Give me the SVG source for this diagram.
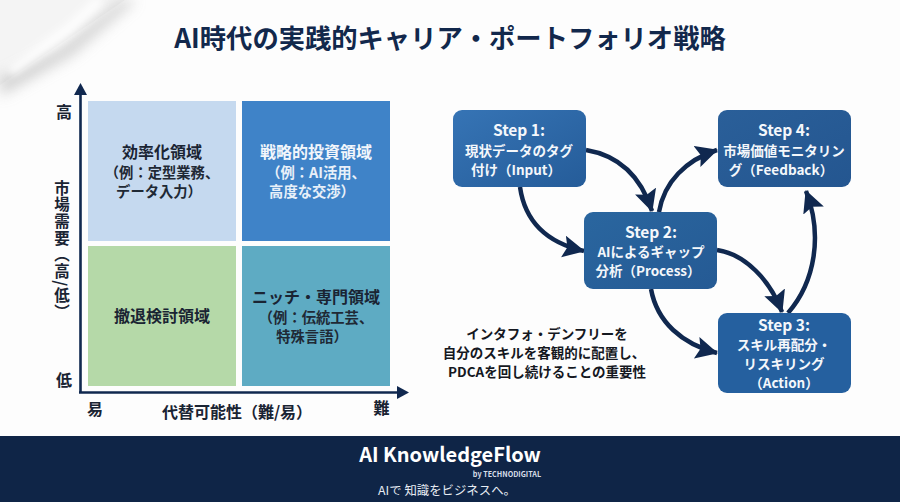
<svg xmlns="http://www.w3.org/2000/svg" width="900" height="502" viewBox="0 0 900 502">
<style>
text{font-family:"Noto Sans CJK JP","Noto Sans",sans-serif;text-anchor:middle;font-weight:700}
.t{font-size:16px;fill:#1a2433}
.w{font-size:16px;fill:#f2f6fb}
.s{font-size:14.300px;fill:#1f2935}
.sw{font-size:14.300px;fill:#e8f0f9}
.ax{font-size:16px;fill:#1a2433}
.n{font-size:13.500px;fill:#f4f7fb}
.h{font-size:15.500px;fill:#f4f7fb}
.c{font-size:13.500px;fill:#15181f}
.arr{fill:none;stroke:#10284f;stroke-width:4.500;marker-end:url(#a)}
.axis{fill:none;stroke:#10284f;stroke-width:2.600}
</style>
<defs>
<marker id="a" markerUnits="userSpaceOnUse" markerWidth="26" markerHeight="26" refX="21" refY="11" orient="auto"><path d="M0 0L22 11L0 22L4 11Z" fill="#10284f"/></marker>
<linearGradient id="b1" x1="0" y1="0" x2="1" y2="1"><stop offset="0" stop-color="#3674b5"/><stop offset="1" stop-color="#255c99"/></linearGradient>
<linearGradient id="b2" x1="0" y1="0" x2="1" y2="1"><stop offset="0" stop-color="#2a669f"/><stop offset="1" stop-color="#255a94"/></linearGradient>
<linearGradient id="b4" x1="0" y1="0" x2="1" y2="1"><stop offset="0" stop-color="#2a5f99"/><stop offset="1" stop-color="#245690"/></linearGradient>
<filter id="bl" x="-30%" y="-30%" width="160%" height="160%"><feGaussianBlur stdDeviation="7"/></filter>
<filter id="bl2" x="-30%" y="-30%" width="160%" height="160%"><feGaussianBlur stdDeviation="4"/></filter>
</defs>
<rect width="900" height="502" fill="#fdfdfd"/>
<g id="curl">
<path d="M0 0H125L0 85Z" fill="#f4f4f4"/>
<path d="M0 78L60 48L122 0H136L72 55L0 96Z" fill="#bcbcbc" opacity=".7" filter="url(#bl)"/>
<path d="M10 72L70 28L100 0" fill="none" stroke="#fff" stroke-width="9" filter="url(#bl2)"/>
</g>
<text id="title" x="450" y="48" style="font-size:26.300px;fill:#12284c">AI時代の実践的キャリア・ポートフォリオ戦略</text>
<g id="axes">
<path class="axis" d="M80.500 392V92"/>
<path d="M80.500 83L87 95H74Z" fill="#10284f"/>
<path class="axis" d="M79 392.500H400"/>
<path d="M409 392.500L397 386V399Z" fill="#10284f"/>
<text class="ax" x="64" y="118">高</text>
<text class="ax" x="64" y="386">低</text>
<text class="ax" x="95" y="415">易</text>
<text class="ax" x="381.500" y="414">難</text>
<text class="ax" x="237" y="418">代替可能性（難/易）</text>
<text class="ax" x="62" y="180" style="writing-mode:vertical-rl;text-anchor:start;font-size:15.500px;letter-spacing:1.200px">市場需要（高/低）</text>
</g>
<g id="q1"><rect x="88" y="101" width="148" height="140" fill="#c5d9ef"/>
<text class="t" x="162" y="158">効率化領域</text><text class="s" x="162" y="178">（例：定型業務、</text><text class="s" x="159" y="197">データ入力）</text></g>
<g id="q2"><rect x="242" y="101" width="148" height="140" fill="#3f83c8"/>
<text class="w" x="316" y="158">戦略的投資領域</text><text class="sw" x="316" y="178">（例：AI活用、</text><text class="sw" x="312" y="197">高度な交渉）</text></g>
<g id="q3"><rect x="88" y="246" width="148" height="140" fill="#b5d9a8"/>
<text class="t" x="162" y="322">撤退検討領域</text></g>
<g id="q4"><rect x="242" y="246" width="148" height="140" fill="#5eabc3"/>
<text class="t" x="316" y="303">ニッチ・専門領域</text><text class="s" x="316" y="323">（例：伝統工芸、</text><text class="s" x="312" y="342">特殊言語）</text></g>
<g id="connectors">
<path class="arr" d="M586 150C622 156 642 180 652 211"/>
<path class="arr" d="M520 187C525 222 548 243 584 251"/>
<path class="arr" d="M659 212C664 182 686 160 717 150"/>
<path class="arr" d="M717 250C745 254 770 280 782 312"/>
<path class="arr" d="M651 289C657 322 682 344 717 353"/>
<path class="arr" d="M788 313C815 282 823 235 806 191"/>
</g>
<g id="step1"><rect x="453" y="110" width="133" height="77" rx="9" fill="url(#b1)"/>
<text class="h" x="519" y="136">Step 1:</text><text class="n" x="519" y="156">現状データのタグ</text><text class="n" x="516" y="175">付け（Input）</text></g>
<g id="step2"><rect x="584" y="212" width="133" height="77" rx="9" fill="url(#b2)"/>
<text class="h" x="651" y="238">Step 2:</text><text class="n" x="651" y="257">AIによるギャップ</text><text class="n" x="648" y="276">分析（Process）</text></g>
<g id="step3"><rect x="718" y="313" width="133" height="80" rx="9" fill="#25609f"/>
<text class="h" x="784" y="331">Step 3:</text><text class="n" x="784" y="350">スキル再配分・</text><text class="n" x="784" y="369">リスキリング</text><text class="n" x="784" y="388">（Action）</text></g>
<g id="step4"><rect x="718" y="110" width="133" height="77" rx="9" fill="url(#b4)"/>
<text class="h" x="784" y="136">Step 4:</text><text class="n" x="784" y="156">市場価値モニタリン</text><text class="n" x="781" y="175">グ（Feedback）</text></g>
<g id="caption">
<text class="c" x="547" y="339">インタフォ・デンフリーを</text>
<text class="c" x="544" y="358">自分のスキルを客観的に配置し、</text>
<text class="c" x="547" y="377">PDCAを回し続けることの重要性</text>
</g>
<g id="footer"><rect y="436" width="900" height="66" fill="#0f2547"/>
<text x="450" y="462" style="font-size:20px;fill:#fff">AI KnowledgeFlow</text>
<text x="507" y="477" style="font-size:7.200px;fill:#d8dfe9">by TECHNODIGITAL</text>
<text x="447" y="495" style="font-size:12.400px;fill:#e6ebf2;font-weight:400">AIで 知識をビジネスへ。</text></g>
</svg>
